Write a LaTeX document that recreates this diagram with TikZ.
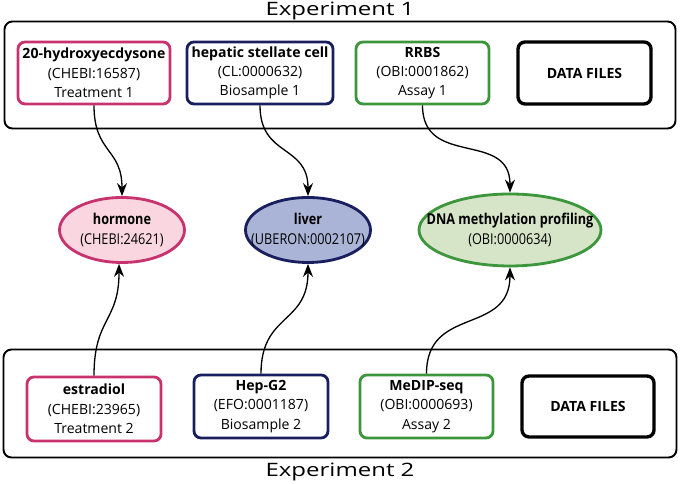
\documentclass[tikz,border=0pt]{standalone}
\usepackage{fontspec}
\setmainfont{Open Sans}
\newfontfamily\condfont[FakeStretch=0.85]{Open Sans}
\newfontfamily\titlefont[FakeStretch=1.3]{Open Sans}
\usepackage{xcolor}
\usetikzlibrary{shapes.geometric,arrows.meta}

\definecolor{treatpink}{RGB}{200,50,110}
\definecolor{treatfill}{RGB}{249,214,224}
\definecolor{samplenavy}{RGB}{25,30,95}
\definecolor{samplefill}{RGB}{170,180,215}
\definecolor{assaygreen}{RGB}{60,150,60}
\definecolor{assayfill}{RGB}{214,228,200}

\begin{document}
\begin{tikzpicture}[
    font=\fontsize{8}{11}\selectfont,
    experiment/.style={rectangle, draw, rounded corners=4.5pt, line width=1.1pt, minimum width=13.42cm, minimum height=2.14cm},
    entry/.style={rectangle, draw, rounded corners=4pt, line width=1.6pt, align=center, minimum height=1.24cm, inner sep=0pt},
    treatment/.style={entry, draw=treatpink},
    biosample/.style={entry, draw=samplenavy},
    assay/.style={entry, draw=assaygreen},
    datafiles/.style={entry, line width=1.9pt, font=\fontsize{8}{11}\selectfont\bfseries},
    term/.style={ellipse, line width=1.6pt, inner sep=0pt},
    termtext/.style={align=center, font=\fontsize{8.5}{11.5}\condfont},
    title/.style={font=\fontsize{10.5}{12}\titlefont},
    arrow/.style={-{Stealth[length=2.6mm,width=2mm]}, line width=0.75pt, looseness=1.3}
]

\useasboundingbox (0,0) rectangle (13.6,9.68);

% experiment frames
\node[experiment] (exp1) at (6.80,8.18) {};
\node[experiment, minimum width=13.46cm, minimum height=2.16cm] (exp2) at (6.80,1.61) {};
\node[title] (title1) at (6.80,9.46) {Experiment 1};
\node[title] (title2) at (6.80,0.24) {Experiment 2};

% experiment 1
\node[treatment, minimum width=3.04cm] (treat1) at (1.88,8.22) {\textbf{20-hydroxyecdysone}\\(CHEBI:16587)\\Treatment 1};
\node[biosample, minimum width=2.92cm] (sample1) at (5.20,8.22) {\textbf{hepatic stellate cell}\\(CL:0000632)\\Biosample 1};
\node[assay, minimum width=2.66cm] (assay1) at (8.45,8.22) {\textbf{RRBS}\\(OBI:0001862)\\Assay 1};
\node[datafiles, minimum width=2.66cm] (data1) at (11.69,8.22) {DATA FILES};

% ontology terms
\node[term, draw=treatpink, fill=treatfill, minimum width=2.50cm, minimum height=1.30cm] (hormone) at (2.44,5.08) {};
\node[termtext] (hormonetext) at (hormone) {\textbf{hormone}\\(CHEBI:24621)};
\node[term, draw=samplenavy, fill=samplefill, minimum width=2.50cm, minimum height=1.30cm] (liver) at (6.16,5.08) {};
\node[termtext] (livertext) at (liver) {\textbf{liver}\\(UBERON:0002107)};
\node[term, draw=assaygreen, fill=assayfill, minimum width=3.64cm, minimum height=1.44cm] (methylation) at (10.20,5.08) {};
\node[termtext] (methylationtext) at (methylation) {\textbf{DNA methylation profiling}\\(OBI:0000634)};

% experiment 2
\node[treatment, minimum width=2.68cm, minimum height=1.28cm] (treat2) at (1.88,1.50) {\textbf{estradiol}\\(CHEBI:23965)\\Treatment 2};
\node[biosample, minimum width=2.68cm, minimum height=1.26cm] (sample2) at (5.22,1.55) {\textbf{Hep-G2}\\(EFO:0001187)\\Biosample 2};
\node[assay, minimum width=2.66cm, minimum height=1.26cm] (assay2) at (8.53,1.55) {\textbf{MeDIP-seq}\\(OBI:0000693)\\Assay 2};
\node[datafiles, minimum width=2.64cm, minimum height=1.22cm] (data2) at (11.76,1.55) {DATA FILES};

\draw[arrow] (treat1.south) to[out=-90, in=90] (hormone.north);
\draw[arrow] (sample1.south) to[out=-90, in=90] (liver.north);
\draw[arrow] (assay1.south) to[out=-90, in=90] (methylation.north);
\draw[arrow] (treat2.north) to[out=90, in=-90] (hormone.-95);
\draw[arrow] (sample2.north) to[out=90, in=-90] (liver.south);
\draw[arrow] (assay2.north) to[out=90, in=-90] (methylation.south);

\end{tikzpicture}
\end{document}
